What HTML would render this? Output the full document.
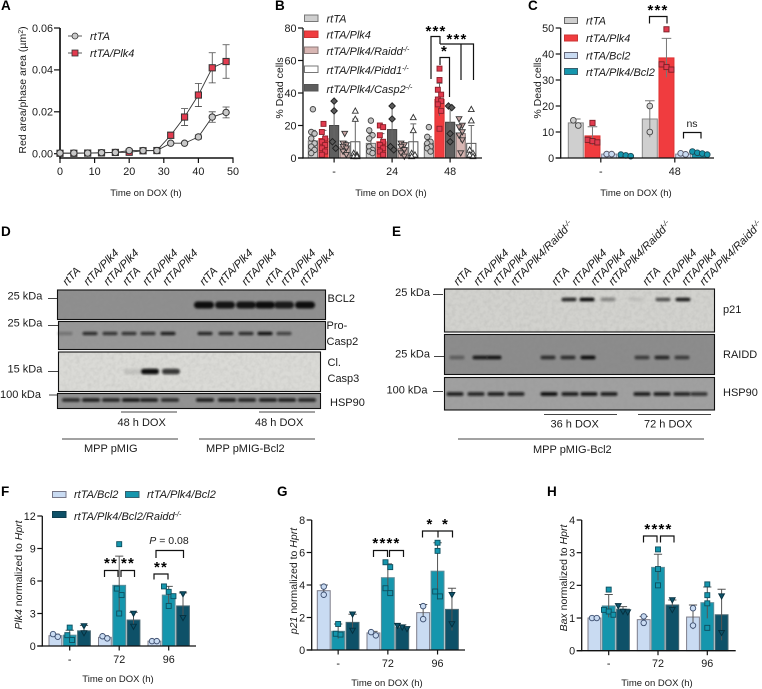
<!DOCTYPE html>
<html lang="en">
<head>
<meta charset="utf-8">
<title>Figure panels A-H</title>
<style>
html,body{margin:0;padding:0;background:#fff;}
svg{display:block;font-family:"Liberation Sans",Arial,sans-serif;fill:#1a1a1a;}
.pl{font-weight:bold;font-size:13.5px;fill:#000;}
.t{font-size:10.5px;}
.i{font-style:italic;}
.sm{font-size:9.5px;}
.lg text{font-size:11px;}
.bl text{font-size:11px;}
.star{font-size:15px;font-weight:bold;letter-spacing:1.2px;text-anchor:middle;fill:#000;}
.br{fill:none;stroke:#111;stroke-width:1.2;}
.ln{stroke:#444;stroke-width:1;fill:none;}
</style>
</head>
<body>
<svg id="fig" xmlns="http://www.w3.org/2000/svg" width="762" height="689" viewBox="0 0 762 689">
<defs>
<filter id="bandBlur" x="-20%" y="-80%" width="140%" height="260%"><feGaussianBlur stdDeviation="1"/></filter>
<filter id="grain" x="0" y="0" width="100%" height="100%"><feTurbulence type="fractalNoise" baseFrequency="0.25" numOctaves="2" seed="4"/><feColorMatrix values="0 0 0 0 0.1 0 0 0 0 0.1 0 0 0 0 0.1 0.6 0 0 0 -0.22"/></filter>
</defs>

<text class="pl" x="1" y="10">A</text>
<text class="pl" x="275" y="10">B</text>
<text class="pl" x="528" y="10">C</text>
<text class="pl" x="1" y="236">D</text>
<text class="pl" x="392" y="236">E</text>
<text class="pl" x="1" y="496">F</text>
<text class="pl" x="277" y="496">G</text>
<text class="pl" x="547" y="496">H</text>

<!-- Axis titles -->
<text class="t" transform="rotate(-90 26 90)" x="26" y="90" text-anchor="middle">Red area/phase area (µm<tspan dy="-3" font-size="7">2</tspan><tspan dy="3">)</tspan></text>
<text class="sm" x="146" y="196" text-anchor="middle">Time on DOX (h)</text>
<text class="t" transform="rotate(-90 283 88)" x="283" y="88" text-anchor="middle">% Dead cells</text>
<text class="sm" x="391" y="196" text-anchor="middle">Time on DOX (h)</text>
<text class="t" transform="rotate(-90 541 88)" x="541" y="88" text-anchor="middle">% Dead cells</text>
<text class="sm" x="636" y="196" text-anchor="middle">Time on DOX (h)</text>
<text class="t" transform="rotate(-90 22 575)" x="22" y="575" text-anchor="middle"><tspan class="i">Plk4</tspan> normalized to <tspan class="i">Hprt</tspan></text>
<text class="sm" x="118" y="682" text-anchor="middle">Time on DOX (h)</text>
<text class="t" transform="rotate(-90 297 581)" x="297" y="581" text-anchor="middle"><tspan class="i">p21</tspan> normalized to <tspan class="i">Hprt</tspan></text>
<text class="sm" x="387" y="686" text-anchor="middle">Time on DOX (h)</text>
<text class="t" transform="rotate(-90 567 578)" x="567" y="578" text-anchor="middle"><tspan class="i">Bax</tspan> normalized to <tspan class="i">Hprt</tspan></text>
<text class="sm" x="657" y="686" text-anchor="middle">Time on DOX (h)</text>

<!-- Legend A -->
<g class="lg">
<line x1="68" x2="82" y1="36" y2="36" stroke="#333" stroke-width="0.8"/>
<circle cx="75" cy="36" r="3" fill="#c9c9c9" stroke="#333" stroke-width="0.8"/>
<text class="i" x="90" y="40">rtTA</text>
<line x1="68" x2="82" y1="53" y2="53" stroke="#333" stroke-width="0.8"/>
<rect x="72" y="50" width="6" height="6" fill="#e23b4f" stroke="#333" stroke-width="0.8"/>
<text class="i" x="90" y="57">rtTA/Plk4</text>
</g>

<!-- Legend B -->
<g class="lg">
<rect x="304.5" y="15" width="13.5" height="6.5" fill="#cfcfcf" stroke="#777"/>
<text class="i" x="326.5" y="22.5">rtTA</text>
<rect x="304.5" y="31" width="13.5" height="6.5" fill="#f03c3f" stroke="#c33"/>
<text class="i" x="326.5" y="38.5">rtTA/Plk4</text>
<rect x="304.5" y="47" width="13.5" height="6.5" fill="#d8b6b3" stroke="#8d7a78"/>
<text class="i" x="326.5" y="55">rtTA/Plk4/Raidd<tspan dy="-3.5" font-size="7">-/-</tspan></text>
<rect x="304.5" y="66" width="13.5" height="6.5" fill="#fff" stroke="#777"/>
<text class="i" x="326.5" y="74">rtTA/Plk4/Pidd1<tspan dy="-3.5" font-size="7">-/-</tspan></text>
<rect x="304.5" y="84.5" width="13.5" height="6.5" fill="#5d5d5d" stroke="#555"/>
<text class="i" x="326.5" y="93">rtTA/Plk4/Casp2<tspan dy="-3.5" font-size="7">-/-</tspan></text>
</g>

<!-- Legend C -->
<g class="lg">
<rect x="564.5" y="17.5" width="13" height="6" fill="#cfcfcf" stroke="#666"/>
<text class="i" x="586" y="24.5">rtTA</text>
<rect x="564.5" y="35" width="13" height="6" fill="#f03c3f" stroke="#c33"/>
<text class="i" x="586" y="42">rtTA/Plk4</text>
<rect x="564.5" y="52.5" width="13" height="6" fill="#c9dbf2" stroke="#667"/>
<text class="i" x="586" y="59.5">rtTA/Bcl2</text>
<rect x="564.5" y="68.5" width="13" height="6" fill="#1596ad" stroke="#36606e"/>
<text class="i" x="586" y="76">rtTA/Plk4/Bcl2</text>
</g>

<!-- Legend F -->
<g class="lg">
<rect x="52.5" y="491.5" width="13.5" height="6" fill="#c9dbf2" stroke="#778"/>
<text class="i" x="74" y="498">rtTA/Bcl2</text>
<rect x="125.5" y="491.5" width="13.5" height="6" fill="#1596ad" stroke="#36606e"/>
<text class="i" x="147" y="498">rtTA/Plk4/Bcl2</text>
<rect x="52.5" y="511.5" width="13.5" height="6" fill="#0e5168" stroke="#0e3d4d"/>
<text class="i" x="74" y="520">rtTA/Plk4/Bcl2/Raidd<tspan dy="-3.5" font-size="7">-/-</tspan></text>
</g>

<!-- Significance annotations -->
<g>
<path class="br" d="M431 79V36.5H440"/>
<path class="br" d="M440 44H473.5V80M461 44V80"/>
<path class="br" d="M440 65V57.5H449.5V97"/>
<line class="br" x1="440" x2="440" y1="36" y2="44"/>
<text class="star" x="436" y="36">***</text>
<text class="star" x="457" y="44">***</text>
<text class="star" x="444.5" y="56">*</text>
</g>
<g>
<path class="br" d="M649.5 23.5V16.5H667V23.5"/>
<text class="star" x="658" y="15">***</text>
<path class="br" d="M683.5 138.5V132.5H701V138.5"/>
<text class="t" x="692" y="127" text-anchor="middle">ns</text>
</g>
<g>
<path class="br" d="M104.5 577V570.5H118V577M121 577V570.5H134.5V577"/>
<text class="star" x="111" y="568">**</text>
<text class="star" x="128" y="568">**</text>
<path class="br" d="M154 579.5V574H168V579.5"/>
<text class="star" x="161" y="572">**</text>
<path class="br" d="M156 558V550.5H183.5V558"/>
<text class="t" x="169" y="544" text-anchor="middle" font-size="11"><tspan class="i">P</tspan> = 0.08</text>
</g>
<g>
<path class="br" d="M373.5 557V550.5H387.5V557M389.5 557V550.5H403.5V557"/>
<text class="star" x="386.5" y="548">****</text>
<path class="br" d="M422.5 537.5V531H438V537.5M438 531H452.5V537.5"/>
<text class="star" x="430" y="529">*</text>
<text class="star" x="445.5" y="529">*</text>
</g>
<g>
<path class="br" d="M643.5 542.5V536H657V542.5M660.5 542.5V536H674V542.5"/>
<text class="star" x="658.5" y="534">****</text>
</g>

<!-- Blot annotations -->
<g class="bl">
<text x="7.5" y="299.5">25 kDa</text><line class="ln" stroke="#222" x1="48" x2="57" y1="298.5" y2="298.5"/>
<text x="7.5" y="326.5">25 kDa</text><line class="ln" x1="48" x2="58" y1="325.5" y2="325.5"/>
<text x="7.5" y="372.5">15 kDa</text><line class="ln" x1="48" x2="58" y1="371.5" y2="371.5"/>
<text x="0" y="398">100 kDa</text><line class="ln" x1="49" x2="58" y1="395" y2="395"/>
<text x="327.5" y="302">BCL2</text>
<text x="326.5" y="329">Pro-</text><text x="326.5" y="345">Casp2</text>
<text x="327.5" y="366">Cl.</text><text x="327.5" y="382">Casp3</text>
<text x="330" y="406">HSP90</text>
<line class="ln" x1="121" x2="177" y1="412" y2="412"/><text x="117.5" y="426">48 h DOX</text>
<line class="ln" x1="259" x2="315" y1="412" y2="412"/><text x="255" y="426">48 h DOX</text>
<line class="ln" x1="62" x2="178" y1="439" y2="439"/><text x="84" y="452">MPP pMIG</text>
<line class="ln" x1="199" x2="315" y1="439" y2="439"/><text x="206" y="452">MPP pMIG-Bcl2</text>
</g>
<g class="bl">
<text x="430" y="296" text-anchor="end">25 kDa</text><line class="ln" x1="433" x2="443" y1="294.5" y2="294.5"/>
<text x="430" y="357.5" text-anchor="end">25 kDa</text><line class="ln" x1="434" x2="444" y1="356.5" y2="356.5"/>
<text x="427.5" y="393.5" text-anchor="end">100 kDa</text><line class="ln" x1="433" x2="443" y1="391.5" y2="391.5"/>
<text x="723" y="313">p21</text>
<text x="723" y="358">RAIDD</text>
<text x="723" y="396">HSP90</text>
<line class="ln" x1="544" x2="617" y1="414.5" y2="414.5"/><text x="550.5" y="427.5">36 h DOX</text>
<line class="ln" x1="638" x2="711" y1="414.5" y2="414.5"/><text x="644" y="427.5">72 h DOX</text>
<line class="ln" x1="458" x2="704" y1="439" y2="439"/><text x="533" y="453">MPP pMIG-Bcl2</text>
</g>
<g id="plots"></g>
</svg>

<script>
/* ---------- Panel A data ---------- */
const aHours = [0,4,8,12,16,20,24,28,32,36,40,44,48];
const aRtTA = [0.0003,0.0003,0.0003,0.0005,0.0006,0.0015,0.0015,0.0015,0.005,0.005,0.008,0.0175,0.0197];
const aPlk4 = [0.0002,0.0002,0.0003,0.0004,0.0006,0.0007,0.0014,0.0015,0.0088,0.0175,0.028,0.041,0.044];
const aRtTAErr = [0,0,0,0,0,0.0002,0.0002,0.0002,0.0004,0.0004,0.001,0.0025,0.0026];
const aPlk4Err = [0,0,0,0,0,0.0002,0.0002,0.0002,0.0015,0.004,0.0055,0.0072,0.008];
const aXTicks = [0,10,20,30,40,50];
const aYTicks = ['0.00','0.02','0.04','0.06'];

/* ---------- Panel B data ---------- */
const bCategories = ['-','24','48'];
const bYTicks = [0,20,40,60,80];
const bRtTAMean = [10.5,9,9];
const bPlk4Mean = [12,10,36];
const bCasp2Mean = [20,17.5,22];
const bRaiddMean = [7,6,15];
const bPidd1Mean = [10,10,9];
const bRtTATop = [17,15,13];
const bPlk4Top = [17,15,46];
const bCasp2Top = [35,32,32];
const bRaiddTop = [10,9,20];
const bPidd1Top = [24,21,20];
const bRtTAPoints = [[30,16,15,12,9,7,5,3],[23,17,14,12,7,5,4,3],[19,13,10,9,7,6,4]];
const bPlk4Points = [[21,16,12,10,8,6,4,2],[20,19,14,10,8,6,4,2],[55,48,42,39,36,35,33,29,18]];
const bCasp2Points = [[35,29,10,6],[32,24,7,5],[32,31,15,10]];
const bRaiddPoints = [[15,9,8,7,6,4,2],[9,8,7,5,3,1],[24,20,19,16,14,11,3]];
const bPidd1Points = [[29,24,3,2,1,1],[25,17,3,2,1],[30,23,5,3,2,1]];

/* ---------- Panel C data ---------- */
const cCategories = ['-','48'];
const cYTicks = [0,10,20,30,40,50];
const cRtTAMean = [13.5,15];
const cPlk4Mean = [8.5,38.5];
const cBcl2Mean = [1.5,1.5];
const cPlk4Bcl2Mean = [1,2];
const cRtTATop = [15,22];
const cPlk4Top = [12,46];
const cBcl2Top = [1.7,1.9];
const cPlk4Bcl2Top = [1.3,2.5];
const cRtTAPoints = [[14.5,12.5],[20,10]];
const cPlk4Points = [[13.5,7,6.5,6],[49.5,36,35,34]];
const cBcl2Points = [[1.5,1.5],[1.8,1.4]];
const cPlk4Bcl2Points = [[1.3,1,0.7],[2.5,2,1.7,1.3]];

/* ---------- Panel F data ---------- */
const fCategories = ['-','72','96'];
const fYTicks = [0,3,6,9,12];
const fBcl2Mean = [0.95,0.8,0.45];
const fPlk4Mean = [1,5.6,4.7];
const fRaiddMean = [1.4,2.4,3.7];
const fBcl2Top = [1.1,0.95,0.5];
const fPlk4Top = [1.45,8.3,5.5];
const fRaiddTop = [1.9,3.1,4.9];
const fBcl2Points = [[1.1,0.85],[0.9,0.7],[0.45,0.45]];
const fPlk4Points = [[1.7,1,0.55],[9.4,5.3,4.7,3],[5.5,5,4.6,3.7]];
const fRaiddPoints = [[1.85,1.2],[3,1.8],[4.8,2.6]];

/* ---------- Panel G data ---------- */
const gCategories = ['-','72','96'];
const gYTicks = [0,2,4,6,8];
const gBcl2Mean = [3.65,1.05,2.3];
const gPlk4Mean = [1.15,4.45,4.85];
const gRaiddMean = [1.7,1.4,2.5];
const gBcl2Top = [4,1.15,2.8];
const gPlk4Top = [1.6,5.3,6.6];
const gRaiddTop = [2.2,1.55,3.8];
const gBcl2Points = [[3.9,3.4],[1.1,0.9],[2.7,1.9]];
const gPlk4Points = [[1.6,1,0.95],[5.4,5.1,3.8,3.5],[6.6,6.1,3.6,3.3]];
const gRaiddPoints = [[2.2,1.2],[1.5,1.4,1.3],[3.4,1.6]];

/* ---------- Panel H data ---------- */
const hCategories = ['-','72','96'];
const hYTicks = [0,1,2,3,4];
const hBcl2Mean = [1,0.95,1.03];
const hPlk4Mean = [1.37,2.55,1.47];
const hRaiddMean = [1.27,1.4,1.1];
const hBcl2Top = [1.03,1.05,1.4];
const hPlk4Top = [1.72,2.95,1.95];
const hRaiddTop = [1.35,1.55,1.88];
const hBcl2Points = [[1,1],[1.05,0.85],[1.3,0.77]];
const hPlk4Points = [[1.87,1.25,1.2,1.1],[3.1,2.5,2],[2.03,1.7,1.45,0.7]];
const hRaiddPoints = [[1.37,1.2,1.18],[1.55,1.25],[1.67,0.55]];

/* ---------- Blot band intensities (lane order, 0 = no band) ---------- */
const dBcl2Bands = [0,0,0,0,0,0,0.95,0.9,0.9,0.95,0.85,0.95];
const dCasp2Bands = [0.25,0.75,0.7,0.7,0.7,0.85,0.8,0.75,0.75,0.95,0.6,0];
const dCasp3Bands = [0,0,0,0.1,0.95,0.75,0,0,0,0,0,0];
const dHsp90Bands = [0.75,0.85,0.8,0.9,0.85,0.75,0.85,0.85,0.8,0.85,0.85,0.8];
const eP21Bands = [0,0,0,0,0,0.8,0.95,0.35,0.08,0.6,0.85,0];
const eRaiddBands = [0.35,0.85,0.9,0,0.7,0.7,0.95,0,0.6,0.75,0.6,0];
const eHsp90Bands = [0.85,0.8,0.85,0.8,0.95,0.85,0.9,0.85,0.85,0.85,0.8,0.7];

const SVGNS = 'http://www.w3.org/2000/svg';
const root = document.getElementById('plots');

function mk(tag, parent, attrs, text) {
  const el = document.createElementNS(SVGNS, tag);
  for (const k in attrs) el.setAttribute(k, attrs[k]);
  if (text !== undefined) el.textContent = text;
  parent.appendChild(el);
  return el;
}

function marker(parent, kind, cx, cy, s, fill, stroke, sw) {
  let el;
  if (kind === 'circle') {
    el = mk('circle', parent, {cx: cx, cy: cy, r: s * 0.55});
  } else if (kind === 'square') {
    el = mk('rect', parent, {x: cx - s / 2, y: cy - s / 2, width: s, height: s});
  } else if (kind === 'diamond') {
    const d = s * 0.65;
    el = mk('polygon', parent, {points: [cx, cy - d, cx + d, cy, cx, cy + d, cx - d, cy].join(' ')});
  } else if (kind === 'down') {
    const d = s * 0.58;
    el = mk('polygon', parent, {points: [cx - d, cy - d * 0.8, cx + d, cy - d * 0.8, cx, cy + d].join(' ')});
  } else {
    const d = s * 0.58;
    el = mk('polygon', parent, {points: [cx - d, cy + d * 0.8, cx + d, cy + d * 0.8, cx, cy - d].join(' ')});
  }
  el.setAttribute('fill', fill);
  el.setAttribute('stroke', stroke);
  el.setAttribute('stroke-width', sw);
  
  
  return el;
}

function axisLine(parent, x1, y1, x2, y2, w) {
  return mk('line', parent, {x1: x1, y1: y1, x2: x2, y2: y2, stroke: '#111', 'stroke-width': w || 1.3});
}

/* ---------- Panel A line chart ---------- */
(function drawPanelA() {
  const g = mk('g', root, {});
  
  
  const xs = v => 60 + v / 50 * 173;
  const ys = v => 153.7 - v / 0.06 * 125.7;
  axisLine(g, 60, 28, 60, 158.7, 1.7);
  axisLine(g, 60, 158, 233.5, 158, 1.4);
  aXTicks.forEach(t => {
    axisLine(g, xs(t), 158, xs(t), 163, 1.2);
    const lab = mk('text', g, {x: xs(t), y: 175, 'text-anchor': 'middle', 'font-size': 10.8}, String(t));
    
    
  });
  aYTicks.forEach(t => {
    const y = ys(parseFloat(t));
    axisLine(g, 54, y, 60, y, 1.2);
    const lab = mk('text', g, {x: 53, y: y + 3.8, 'text-anchor': 'end', 'font-size': 10.8}, t);
    
    
  });
  function series(vals, errs, kind, fill) {
    const pts = vals.map((v, i) => xs(aHours[i]) + ',' + ys(v)).join(' ');
    const line = mk('polyline', g, {points: pts, fill: 'none', stroke: '#333', 'stroke-width': 0.9});
    
    
    vals.forEach((v, i) => {
      if (errs[i] > 0.0005) {
        const x = xs(aHours[i]);
        mk('path', g, {d: 'M' + (x - 3.5) + ' ' + ys(v + errs[i]) + 'H' + (x + 3.5) + 'M' + x + ' ' + ys(v + errs[i]) + 'V' + ys(v - errs[i]) + 'M' + (x - 3.5) + ' ' + ys(v - errs[i]) + 'H' + (x + 3.5), stroke: '#444', 'stroke-width': 0.8, fill: 'none'});
      }
    });
    vals.forEach((v, i) => marker(g, kind, xs(aHours[i]), ys(v), kind === 'circle' ? 5.8 : 6.2, fill, '#333', 1));
  }
  series(aPlk4, aPlk4Err, 'square', '#e23b4f');
  series(aRtTA, aRtTAErr, 'circle', '#c9c9c9');
})();

/* ---------- Shared bar chart ---------- */
function drawBars(cfg) {
  const g = mk('g', root, {});
  
  
  const ys = v => cfg.y0 - v / cfg.yMax * (cfg.y0 - cfg.yTop);
  const step = cfg.barStep, w = cfg.barW;
  const tops = cfg.tops, means = cfg.means, pts = cfg.points;
  means.forEach((arr, s) => {
    arr.forEach((m, gi) => {
      const x = cfg.start + gi * cfg.groupStep + s * step;
      const cx = x + w / 2;
      const top = tops[s][gi];
      const low = Math.max(0, m - (top - m));
      const bar = mk('rect', g, {x: x, y: ys(m), width: w, height: cfg.y0 - ys(m), fill: cfg.fills[s], stroke: cfg.barStrokes[s], 'stroke-width': 1});
      
      
      const cap = w * 0.32;
      mk('path', g, {d: 'M' + cx + ' ' + ys(low) + 'V' + ys(top) + 'M' + (cx - cap) + ' ' + ys(top) + 'H' + (cx + cap), stroke: cfg.errColor || '#666', 'stroke-width': 1, fill: 'none'});
      const ms = cfg.markerSize;
      /* spread neighbouring points: side by side, or a narrow zigzag column */
      const sorted = pts[s][gi].slice().sort((p, q) => q - p);
      let cluster = [];
      const flush = () => {
        const n = cluster.length;
        const sp = n > 1 ? Math.min(ms * 0.95, w * 1.0 / (n - 1)) : 0;
        cluster.forEach((v, k) => {
          let off = (k - (n - 1) / 2) * sp;
          if (cfg.zigzag) off = n > 1 ? (k % 2 ? 1 : -1) * w * 0.18 : 0;
          marker(g, cfg.markers[s], cx + off, ys(v), ms, cfg.pointFills[s], cfg.pointStrokes[s], 0.9);
        });
        cluster = [];
      };
      sorted.forEach(v => {
        if (cluster.length && ys(v) - ys(cluster[cluster.length - 1]) > ms * 1.3) flush();
        cluster.push(v);
      });
      flush();
    });
  });
  axisLine(g, cfg.axisX, cfg.yTop, cfg.axisX, cfg.y0 + 0.6);
  axisLine(g, cfg.axisX - 5, cfg.y0, cfg.xEnd, cfg.y0);
  cfg.yTicks.forEach(t => {
    const y = ys(t);
    axisLine(g, cfg.axisX - 5, y, cfg.axisX, y, 1.2);
    const lab = mk('text', g, {x: cfg.axisX - 6.5, y: y + 3.8, 'text-anchor': 'end', 'font-size': 10.8}, String(t));
    
    
  });
  cfg.categories.forEach((c, gi) => {
    const cx = cfg.start + gi * cfg.groupStep + (means.length * step - (step - w)) / 2;
    axisLine(g, cx, cfg.y0, cx, cfg.y0 + 4.5, 1.2);
    const lab = mk('text', g, {x: cx, y: cfg.labelY, 'text-anchor': 'middle', 'font-size': 10.8}, c);
    
    
  });
}

drawBars({
  name: 'panel-b-bar-chart', y0: 158, yTop: 28, yMax: 80, axisX: 303, xEnd: 482,
  start: 308.3, groupStep: 58, barStep: 10.6, barW: 9.2, markerSize: 5, labelY: 175, zigzag: true,
  categories: bCategories, yTicks: bYTicks,
  means: [bRtTAMean, bPlk4Mean, bCasp2Mean, bRaiddMean, bPidd1Mean],
  tops: [bRtTATop, bPlk4Top, bCasp2Top, bRaiddTop, bPidd1Top],
  points: [bRtTAPoints, bPlk4Points, bCasp2Points, bRaiddPoints, bPidd1Points],
  fills: ['#cfcfcf', '#f03c3f', '#5f5f5f', '#d8b6b3', '#ffffff'],
  barStrokes: ['#777', '#d33', '#444', '#7f6f6d', '#555'],
  pointFills: ['#c4c4c4', '#e23b4f', '#5a5a5a', '#c9a8a6', '#ffffff'],
  pointStrokes: ['#444', '#8a1f28', '#222', '#333', '#333'],
  markers: ['circle', 'square', 'diamond', 'down', 'up']
});

drawBars({
  name: 'panel-c-bar-chart', y0: 158, yTop: 28, yMax: 50, axisX: 560.7, xEnd: 714,
  start: 568.3, groupStep: 74, barStep: 16.67, barW: 15, markerSize: 5.2, labelY: 175,
  categories: cCategories, yTicks: cYTicks, errColor: '#777',
  means: [cRtTAMean, cPlk4Mean, cBcl2Mean, cPlk4Bcl2Mean],
  tops: [cRtTATop, cPlk4Top, cBcl2Top, cPlk4Bcl2Top],
  points: [cRtTAPoints, cPlk4Points, cBcl2Points, cPlk4Bcl2Points],
  fills: ['#cfcfcf', '#f03c3f', '#c9dbf2', '#1596ad'],
  barStrokes: ['#888', '#d33', '#889', '#2a7484'],
  pointFills: ['#cfcfcf', '#e23b4f', '#c9dbf2', '#1596ad'],
  pointStrokes: ['#444', '#7a1f25', '#556', '#1a4a58'],
  markers: ['circle', 'square', 'circle', 'circle']
});

const qFills = ['#c9dbf2', '#1596ad', '#0e5168'];
const qBarStrokes = ['#7d7d8a', '#5f8d99', '#4d6a74'];
const qPointFills = ['#c9dbf2', '#1596ad', '#0e5168'];
const qPointStrokes = ['#3d4f70', '#0d4f5f', '#052f3e'];
const qMarkers = ['circle', 'square', 'down'];

drawBars({
  name: 'panel-f-bar-chart', y0: 646, yTop: 516, yMax: 12, axisX: 42.3, xEnd: 196,
  start: 49, groupStep: 49.5, barStep: 14.3, barW: 12.8, markerSize: 5, labelY: 663,
  categories: fCategories, yTicks: fYTicks, errColor: '#555',
  means: [fBcl2Mean, fPlk4Mean, fRaiddMean], tops: [fBcl2Top, fPlk4Top, fRaiddTop],
  points: [fBcl2Points, fPlk4Points, fRaiddPoints],
  fills: qFills, barStrokes: qBarStrokes, pointFills: qPointFills, pointStrokes: qPointStrokes, markers: qMarkers
});
drawBars({
  name: 'panel-g-bar-chart', y0: 650, yTop: 520, yMax: 8, axisX: 311.7, xEnd: 465,
  start: 317.3, groupStep: 49.7, barStep: 14.4, barW: 12.9, markerSize: 5, labelY: 667,
  categories: gCategories, yTicks: gYTicks, errColor: '#555',
  means: [gBcl2Mean, gPlk4Mean, gRaiddMean], tops: [gBcl2Top, gPlk4Top, gRaiddTop],
  points: [gBcl2Points, gPlk4Points, gRaiddPoints],
  fills: qFills, barStrokes: qBarStrokes, pointFills: qPointFills, pointStrokes: qPointStrokes, markers: qMarkers
});
drawBars({
  name: 'panel-h-bar-chart', y0: 650.7, yTop: 520, yMax: 4, axisX: 581.7, xEnd: 735.7,
  start: 588, groupStep: 49.3, barStep: 14.3, barW: 12.8, markerSize: 5, labelY: 667,
  categories: hCategories, yTicks: hYTicks, errColor: '#555',
  means: [hBcl2Mean, hPlk4Mean, hRaiddMean], tops: [hBcl2Top, hPlk4Top, hRaiddTop],
  points: [hBcl2Points, hPlk4Points, hRaiddPoints],
  fills: qFills, barStrokes: qBarStrokes, pointFills: qPointFills, pointStrokes: qPointStrokes, markers: qMarkers
});

/* ---------- Western blots ---------- */
function drawBlot(name, x, y, w, h, bg, grain, lanes, intensities, bandY, bandW, bandH) {
  const g = mk('g', root, {});
  
  
  mk('rect', g, {x: x, y: y, width: w, height: h, fill: bg});
  mk('rect', g, {x: x, y: y, width: w, height: h, filter: 'url(#grain)', opacity: grain});
  intensities.forEach((v, i) => {
    if (v <= 0) return;
    const band = mk('rect', g, {
      x: lanes[i] - bandW / 2, y: bandY - bandH / 2, width: bandW, height: bandH,
      rx: bandH / 2, ry: bandH / 2, fill: '#0a0a0a', opacity: Math.min(1, v * 1.05), filter: 'url(#bandBlur)'
    });
    
    
  });
  mk('rect', g, {x: x, y: y, width: w, height: h, fill: 'none', stroke: '#111', 'stroke-width': 1.1});
}

const dSixBCL2 = [65, 85, 105, 125, 145, 165, 204, 225, 246, 265, 284, 305];
const dCaspLanes = [65, 90, 110, 129, 148, 168, 205, 226, 246, 265, 284, 305];
const dCl3Lanes = [65, 85, 105, 133, 150, 171, 205, 226, 246, 265, 284, 305];
const dHspLanes = [71, 91, 111, 131, 149, 170, 205, 227, 247, 268, 287, 307];
const eP21Lanes = [455, 475, 495, 515, 535, 569, 587, 608, 636, 663, 683, 703];
const eRaiddLanes = [457, 480, 494, 515, 548, 568, 588, 610, 642, 662, 682, 703];
const eHspLanes = [455, 476, 496, 516, 549, 570, 589, 609, 642, 662, 682, 699];

drawBlot('blot-d-bcl2', 57.5, 290, 268, 29.5, '#8f8f8f', 0.12, dSixBCL2, dBcl2Bands, 305, 20, 7);
drawBlot('blot-d-pro-casp2', 58.5, 321.5, 267, 28, '#979797', 0.12, dCaspLanes, dCasp2Bands, 333.5, 15, 3.2);
drawBlot('blot-d-cleaved-casp3', 58.5, 352, 262, 39.5, '#dadad6', 0.3, dCl3Lanes, dCasp3Bands, 371.5, 18, 5.5);
drawBlot('blot-d-hsp90', 57.5, 393.5, 263, 15, '#929292', 0.12, dHspLanes, dHsp90Bands, 400, 18, 3.6);

drawBlot('blot-e-p21', 444.5, 289, 270, 43, '#d2d2ce', 0.3, eP21Lanes, eP21Bands, 299.5, 15, 3.8);
drawBlot('blot-e-raidd', 444.5, 334.5, 270, 40, '#8c8c8c', 0.12, eRaiddLanes, eRaiddBands, 357.5, 15, 3.8);
drawBlot('blot-e-hsp90', 444.5, 377.5, 270, 32.5, '#a0a0a0', 0.12, eHspLanes, eHsp90Bands, 394, 17, 3.8);

/* ---------- Rotated lane labels ---------- */
const dLaneNames = ['rtTA','rtTA/Plk4','rtTA/Plk4','rtTA','rtTA/Plk4','rtTA/Plk4','rtTA','rtTA/Plk4','rtTA/Plk4','rtTA','rtTA/Plk4','rtTA/Plk4'];
const dLaneAnchorX = [67,88,108,127,147,167,204,222,246,269,285,304];
const dLaneAnchorY = 286;
const eLaneNames = ['rtTA','rtTA/Plk4','rtTA/Plk4','rtTA/Plk4/Raidd','rtTA','rtTA/Plk4','rtTA/Plk4','rtTA/Plk4/Raidd','rtTA','rtTA/Plk4','rtTA/Plk4','rtTA/Plk4/Raidd'];
const eLaneAnchorX = [458,478,497,515,556,576,595,613,647,666,686,704];
const eLaneAnchorY = 286;

function laneLabels(names, xs, yBase, groupName) {
  const g = mk('g', root, {});
  
  
  names.forEach((n, i) => {
    const t = mk('text', g, {
      x: xs[i], y: yBase, 'font-size': 11.2, 'font-style': 'italic',
      transform: 'rotate(-46 ' + xs[i] + ' ' + yBase + ')'
    }, n);
    
    
    if (n.indexOf('Raidd') >= 0) {
      const sup = mk('tspan', t, {dy: -3.5, 'font-size': 7.5}, '-/-');
      
      
    }
  });
}
laneLabels(dLaneNames, dLaneAnchorX, dLaneAnchorY, 'blot-d-lane-labels');
laneLabels(eLaneNames, eLaneAnchorX, eLaneAnchorY, 'blot-e-lane-labels');
</script>
</body>
</html>
